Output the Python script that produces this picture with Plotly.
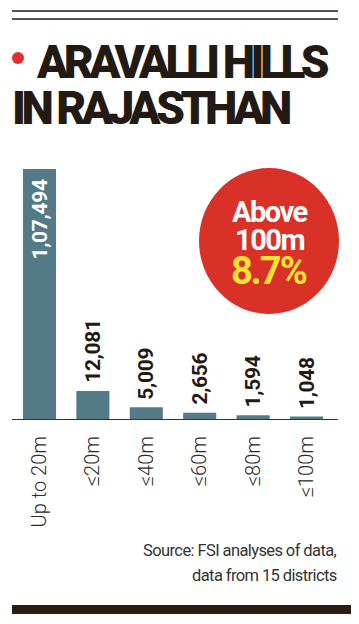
import plotly.graph_objects as go

categories = ["Up to 20m", "≤20m", "≤40m", "≤60m", "≤80m", "≤100m"]
values = [107494, 12081, 5009, 2656, 1594, 1048]
value_labels = ["1,07,494", "12,081", "5,009", "2,656", "1,594", "1,048"]

title_lines = ["ARAVALLI HILLS", "IN RAJASTHAN"]
callout_lines = ["Above", "100m"]
callout_value = "8.7%"
source_lines = ["Source: FSI analyses of data,", "data from 15 districts"]

OFF = 8  # page body margin
SW, SH = 359, 624
W, H = SW - OFF, SH - OFF
PL, PR, PT, PB = 12, 338, 169, 419  # plot area in screen pixels

def px(x):
    return (x - PL) / (PR - PL)

def py(y):
    return (PB - y) / (PB - PT)

FONT = "Roboto, Liberation Sans, sans-serif"
DARK = "#231a14"
BAR = "#557a87"

fig = go.Figure(go.Bar(
    x=categories, y=values,
    marker=dict(color=BAR, line=dict(width=0)),
    width=0.62, hoverinfo="skip",
))

def tight(s, ls):
    return '<span style="letter-spacing:%spx">%s</span>' % (ls, s)

annotations = []
for i, (c, v, lab) in enumerate(zip(categories, values, value_labels)):
    if i == 0:
        annotations.append(dict(x=c, y=v, text="<b>" + tight(lab, -0.3) + "</b>", textangle=-90,
                                xanchor="center", yanchor="top", yshift=-9, showarrow=False,
                                font=dict(family=FONT, size=21, color="white")))
    else:
        annotations.append(dict(x=c, y=v, text="<b>" + tight(lab, -0.3) + "</b>", textangle=-90,
                                xanchor="center", yanchor="bottom", yshift=6, showarrow=False,
                                font=dict(family=FONT, size=21, color=DARK)))

shapes = []
for yy in (11, 19):
    shapes.append(dict(type="line", xref="paper", yref="paper",
                       x0=px(12), x1=px(338), y0=py(yy), y1=py(yy),
                       line=dict(color=DARK, width=1.6)))
shapes.append(dict(type="line", xref="paper", yref="paper",
                   x0=px(354), x1=px(354), y0=py(10), y1=py(580),
                   line=dict(color=DARK, width=1)))
shapes.append(dict(type="rect", xref="paper", yref="paper",
                   x0=px(12), x1=px(362), y0=py(605), y1=py(614),
                   fillcolor="#2b1d12", line=dict(width=0)))
shapes.append(dict(type="circle", xref="paper", yref="paper",
                   x0=px(12), x1=px(24), y0=py(52), y1=py(64),
                   fillcolor="#e0302a", line=dict(width=0)))
shapes.append(dict(type="circle", xref="paper", yref="paper",
                   x0=px(199), x1=px(339), y0=py(168), y1=py(314),
                   fillcolor="#d93128", line=dict(width=0), layer="below"))

annotations.append(dict(text=tight(title_lines[0], -4.5), xref="paper", yref="paper",
                        x=px(34), y=py(62), xanchor="left", yanchor="middle", showarrow=False,
                        font=dict(family=FONT, size=46, color=DARK, weight=900)))
annotations.append(dict(text=tight(title_lines[1], -4.5), xref="paper", yref="paper",
                        x=px(10), y=py(108), xanchor="left", yanchor="middle", showarrow=False,
                        font=dict(family=FONT, size=46, color=DARK, weight=900)))
annotations.append(dict(text="<b>" + tight(callout_lines[0], -1.5) + "</b>", xref="paper", yref="paper",
                        x=px(269), y=py(212), xanchor="center", yanchor="middle", showarrow=False,
                        font=dict(family=FONT, size=29, color="white")))
annotations.append(dict(text="<b>" + tight(callout_lines[1], -1.5) + "</b>", xref="paper", yref="paper",
                        x=px(269), y=py(240), xanchor="center", yanchor="middle", showarrow=False,
                        font=dict(family=FONT, size=29, color="white")))
annotations.append(dict(text="<b>" + tight(callout_value, -2) + "</b>", xref="paper", yref="paper",
                        x=px(269), y=py(271), xanchor="center", yanchor="middle", showarrow=False,
                        font=dict(family=FONT, size=38, color="#f7e431")))
for line, yy in zip(source_lines, (550, 575)):
    annotations.append(dict(text=tight(line, -0.6), xref="paper", yref="paper",
                            x=px(339), y=py(yy), xanchor="right", yanchor="middle", showarrow=False,
                            font=dict(family=FONT, size=16.5, color="#333333")))

fig.update_layout(
    width=W, height=H,
    margin=dict(l=PL - OFF, r=SW - PR, t=PT - OFF, b=SH - PB, pad=0),
    paper_bgcolor="white", plot_bgcolor="white",
    showlegend=False,
    shapes=shapes, annotations=annotations,
    xaxis=dict(range=[-0.515, 5.59], showline=True, linecolor="#333333", linewidth=1,
               showgrid=False, zeroline=False, ticks="", tickangle=-90,
               ticklabelstandoff=8,
               tickfont=dict(family=FONT, size=20, color="#2a2a2a", weight=300),
               fixedrange=True),
    yaxis=dict(range=[0, 107494], visible=False, fixedrange=True),
)

fig.write_html("out.html", config={"displayModeBar": False})
